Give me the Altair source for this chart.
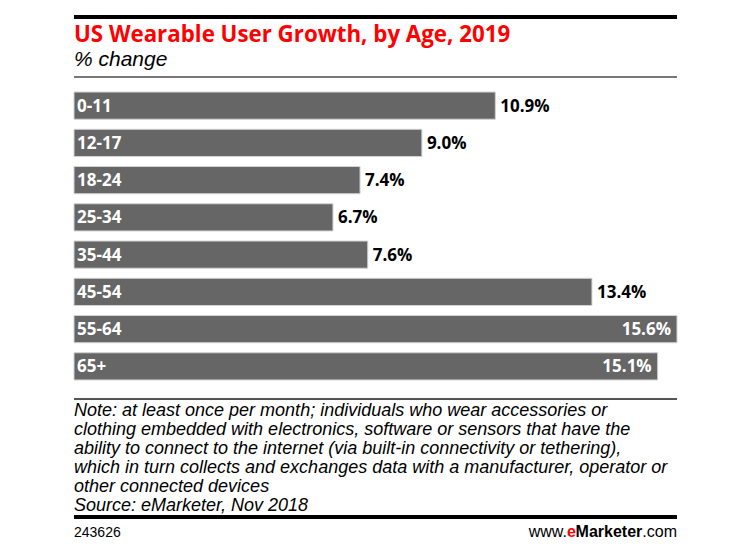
import altair as alt
import pandas as pd

ages = ["0-11", "12-17", "18-24", "25-34", "35-44", "45-54", "55-64", "65+"]
values = [10.9, 9.0, 7.4, 6.7, 7.6, 13.4, 15.6, 15.1]
labels = ["10.9%", "9.0%", "7.4%", "6.7%", "7.6%", "13.4%", "15.6%", "15.1%"]

title_text = "US Wearable User Growth, by Age, 2019"
subtitle_text = "% change"
note_lines = [
    "Note: at least once per month; individuals who wear accessories or",
    "clothing embedded with electronics, software or sensors that have the",
    "ability to connect to the internet (via built-in connectivity or tethering),",
    "which in turn collects and exchanges data with a manufacturer, operator or",
    "other connected devices",
    "Source: eMarketer, Nov 2018",
]
chart_id = "243626"

df = pd.DataFrame({"age": ages, "value": values, "label": labels})

W, H = 603, 298
BOLD = "Open Sans"
ARIAL = "Liberation Sans"

x_enc = alt.X("value:Q", axis=None, scale=alt.Scale(domain=[0, 15.6], nice=False, zero=True))
y_enc = alt.Y("age:N", axis=None, sort=ages,
              scale=alt.Scale(paddingInner=0.27, paddingOuter=0.135))

base = alt.Chart(df)

bars = base.mark_bar(color="#666666", stroke="#d3d3d3", strokeWidth=1).encode(x=x_enc, y=y_enc)

age_text = base.mark_text(align="left", baseline="middle", dx=3, dy=1, color="white",
                          font=BOLD, fontWeight="bold", fontSize=17).encode(
    x=alt.value(0), y=y_enc, text="age:N")

out_text = base.transform_filter("datum.value < 15").mark_text(
    align="left", baseline="middle", dx=5, dy=1, color="black",
    font=BOLD, fontWeight="bold", fontSize=17).encode(x=x_enc, y=y_enc, text="label:N")

in_text = base.transform_filter("datum.value >= 15").mark_text(
    align="right", baseline="middle", dx=-6, dy=1, color="white",
    font=BOLD, fontWeight="bold", fontSize=17).encode(x=x_enc, y=y_enc, text="label:N")


def hline(y, color, width):
    return alt.Chart(df).mark_rule(color=color, strokeWidth=width).encode(
        x=alt.value(0), x2=alt.value(W), y=alt.value(y))


def txt(y, s, x=0, align="left", **kw):
    return alt.Chart(df.head(1)).mark_text(align=align, baseline="alphabetic", **kw).encode(
        x=alt.value(x), y=alt.value(y), text=alt.value(s))


top_line = hline(-70, "black", 4)
sub_line = hline(-10, "#777777", 1.5)
bottom_line = hline(312, "#555555", 1.5)
foot_line = hline(430, "black", 4)

title = txt(-45, title_text, color="#ff0000", font=BOLD, fontWeight="bold", fontSize=22.3)
subtitle = txt(-21, subtitle_text, color="black", font=ARIAL, fontStyle="italic", fontSize=21)
note = alt.Chart(df.head(1)).mark_text(
    align="left", baseline="alphabetic", color="black", font=ARIAL, fontStyle="italic",
    fontSize=18, lineHeight=19).encode(
    x=alt.value(0), y=alt.value(329), text=alt.value(note_lines))
foot_id = txt(450, chart_id, color="black", font=ARIAL, fontSize=14)
FS = 16
w_com = 34.7
w_mk = 66.5
w_e = 8.9
f1 = txt(450, ".com", x=W, align="right", color="black", font=ARIAL, fontSize=FS)
f2 = txt(450, "Marketer", x=W - w_com, align="right", color="black", font=ARIAL,
         fontWeight="bold", fontSize=FS)
f3 = txt(450, "e", x=W - w_com - w_mk, align="right", color="#ff0000", font=ARIAL,
         fontWeight="bold", fontSize=FS)
f4 = txt(450, "www.", x=W - w_com - w_mk - w_e, align="right", color="black", font=ARIAL,
         fontSize=FS)

chart = alt.layer(
    bars, age_text, out_text, in_text,
    top_line, sub_line, bottom_line, foot_line,
    title, subtitle, note, foot_id, f1, f2, f3, f4,
).properties(
    width=W, height=H,
    autosize=alt.AutoSizeParams(type="none"),
    padding={"left": 66, "top": 79, "right": 65, "bottom": 164},
    background="white",
).configure_view(stroke=None)

chart.save("out.html", embed_options={"renderer": "svg", "actions": False})
